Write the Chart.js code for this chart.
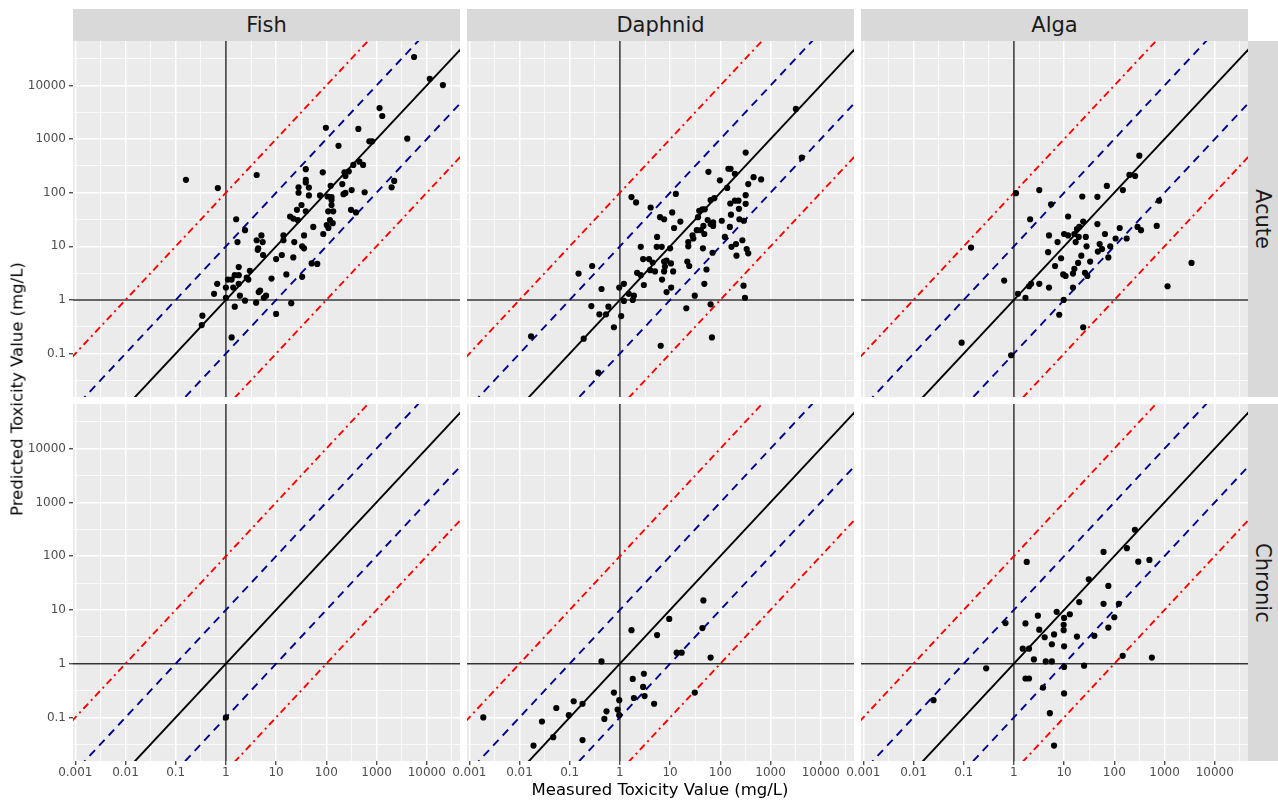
<!DOCTYPE html>
<html>
<head>
<meta charset="utf-8">
<script src="https://cdn.jsdelivr.net/npm/chart.js@4.4.1/dist/chart.umd.min.js"></script>
<style>
    body { margin: 0; background: #fff; font-family: 'DejaVu Sans', sans-serif; }
    #wrap { position: relative; width: 1278px; height: 801px; overflow: hidden; background: #fff; }
    .panel { position: absolute; }
    .strip { position: absolute; background: #D9D9D9; color: #1A1A1A; font-size: 21px;
             display: flex; align-items: center; justify-content: center; }
    .vstrip { writing-mode: vertical-rl; }
    .title { position: absolute; color: #000; font-size: 16.5px; white-space: nowrap; }
</style>
</head>
<body>
<div id="wrap"></div>
<script>
// facets
const organisms = ['Fish', 'Daphnid', 'Alga']
const durations = ['Acute', 'Chronic']

// axis ticks
const xTickValues = [0.001, 0.01, 0.1, 1, 10, 100, 1000, 10000]
const xTickLabels = ['0.001', '0.01', '0.1', '1', '10', '100', '1000', '10000']
const yTickValues = [0.1, 1, 10, 100, 1000, 10000]
const yTickLabels = ['0.1', '1', '10', '100', '1000', '10000']

// reference lines: predicted = factor * measured
const refFactors = [1, 10, 0.1, 100, 0.01]

// [measured, predicted] in mg/L
const fishAcute = [
    [0.16, 174], [0.69, 122], [4.1, 214],
    [5600, 34000], [11500, 13300], [21000, 10200], [1150, 3800], [1300, 2700], [98, 1630], [435, 1550],
    [175, 750], [4100, 1020], [720, 910], [820, 910],
    [345, 330], [455, 380], [540, 330], [230, 240], [280, 250], [240, 205], [39, 275], [85, 240], [39, 174], [39, 155],
    [28, 126], [45, 125], [28, 100], [45, 89], [122, 135], [208, 145], [320, 112], [220, 94], [240, 99], [580, 102],
    [2000, 126], [2250, 166], [75, 89], [106, 85], [127, 83],
    [127, 73], [127, 59], [109, 45], [137, 45], [310, 48], [390, 43], [32, 59], [26, 48], [39, 45], [19, 36], [22, 33],
    [27, 31], [118, 31], [134, 27], [102, 25], [110, 22], [87, 17], [55, 23],
    [1.6, 32], [2.4, 20], [1.7, 12], [4.1, 13], [5.1, 16], [5.4, 12], [4.4, 9.2], [4.3, 8.6],
    [14, 16], [14, 13], [23, 12], [36, 16], [33, 10], [36, 9.2],
    [5.5, 6.9], [10, 5.8], [13, 6.9], [22, 6.2], [51, 4.8], [66, 4.7], [33, 2.7],
    [1.8, 4.1], [3.0, 3.5],
    [1.1, 2.4], [1.3, 2.4], [1.5, 2.9], [1.8, 2.9], [2.6, 2.6], [2.8, 2.4],
    [0.67, 2.0], [1.0, 1.7], [1.4, 1.7], [1.8, 2.0],
    [0.58, 1.3], [1.0, 1.1], [1.9, 1.2], [2.4, 0.97],
    [4.0, 0.89], [4.5, 1.4], [4.8, 1.5], [6.3, 1.2], [5.7, 1.1],
    [8.1, 2.5], [16, 3.0], [10, 0.55], [20, 0.87], [1.5, 0.75], [0.34, 0.51], [0.33, 0.34], [1.3, 0.20],
]
const daphnidAcute = [
    [3200, 3650], [4200, 450], [320, 560], [58, 245], [145, 280], [160, 280], [195, 225], [98, 170], [460, 195],
    [650, 177], [137, 123], [360, 145],
    [1.7, 83], [2.1, 66], [13, 95], [4.1, 53], [6.3, 35], [7.6, 32], [11, 43], [16, 29], [12, 22],
    [64, 73], [76, 79], [158, 63], [195, 71], [230, 71], [320, 90], [320, 62],
    [38, 46], [44, 49], [49, 49],
    [56, 31], [46, 24], [64, 26], [72, 28], [72, 24],
    [107, 30], [155, 23], [240, 32], [295, 30], [163, 39], [235, 50], [36, 35],
    [28, 16], [34, 20], [41, 20], [48, 17], [29, 14],
    [5.5, 15], [123, 15], [275, 13],
    [2.6, 9.8], [5.4, 9.8], [6.8, 9.8], [10, 9.2],
    [23, 12], [23, 10], [45, 9.2], [70, 7.6],
    [167, 9.8], [205, 11], [210, 6.7], [335, 8.9], [360, 7.4],
    [2.9, 5.8], [3.8, 5.8], [4.5, 5.0], [4.0, 3.6], [5.0, 3.4], [7.6, 5.2], [8.5, 5.4], [10.4, 4.8], [7.9, 4.2],
    [7.6, 3.4], [11.5, 3.4],
    [2.2, 3.2], [2.6, 2.9], [3.0, 1.9], [6.9, 2.4], [10.5, 1.7], [8.5, 1.4],
    [22, 5.2], [24, 4.3], [53, 3.7], [48, 2.0], [31, 1.2], [21, 0.70],
    [64, 0.83], [68, 0.20], [290, 1.85], [310, 1.1], [6.5, 0.14],
    [0.15, 3.1], [0.28, 4.3], [0.43, 1.6],
    [0.97, 1.7], [1.2, 2.0], [1.5, 1.3], [1.8, 1.0], [1.9, 1.2], [1.2, 0.96],
    [0.27, 0.77], [0.39, 0.54], [0.53, 0.54], [0.59, 0.75],
    [1.06, 0.50], [0.76, 0.31],
    [0.017, 0.21], [0.19, 0.19], [0.37, 0.044],
]
const algaAcute = [
    [315, 490], [200, 215], [260, 205], [71, 134], [148, 112], [3.2, 112], [1.1, 98], [23, 85], [46, 84],
    [5.5, 61], [780, 71], [2.1, 32], [12, 36],
    [24, 29], [20, 23], [18, 21], [46, 26], [290, 23], [340, 20], [700, 24], [128, 22],
    [5.0, 16], [10, 17], [12, 16], [16, 17], [19.5, 15], [27, 15], [65, 17],
    [7.4, 12], [17, 12], [28, 10], [51, 11], [57, 8.9], [83, 10], [106, 14], [176, 14],
    [4.8, 7.8], [8.7, 6.0], [22, 6.7], [47, 8.0], [76, 6.2],
    [6.6, 4.3], [16, 3.8], [19, 4.9], [33, 5.2],
    [9.6, 3.0], [10.7, 2.8], [15, 3.1], [26, 3.2], [29, 2.8],
    [0.64, 2.3], [2.0, 1.8], [2.2, 2.0], [3.2, 2.0], [5.0, 1.7], [15, 1.7],
    [1.2, 1.3], [1.7, 1.1], [9.8, 1.0], [3450, 4.9], [1150, 1.8], [8.0, 0.53], [24, 0.31],
    [0.14, 9.5], [0.091, 0.16], [0.88, 0.093],
]
const fishChronic = [
    [1, 0.1],
]
const daphnidChronic = [
    [46, 15], [44, 4.6], [9.6, 6.8], [1.7, 4.2], [5.5, 3.4], [13.5, 1.6], [17, 1.6], [64, 1.3], [0.43, 1.1],
    [1.8, 0.52], [3.0, 0.65], [2.9, 0.37], [1.9, 0.23], [3.1, 0.25], [4.8, 0.18],
    [0.76, 0.29], [0.97, 0.21], [0.90, 0.14], [0.97, 0.11], [0.54, 0.13], [0.49, 0.094],
    [31, 0.29], [0.12, 0.20], [0.18, 0.18], [0.096, 0.11], [0.054, 0.15],
    [0.028, 0.084], [0.047, 0.043], [0.019, 0.030], [0.18, 0.038], [0.0019, 0.10],
]
const algaChronic = [
    [257, 310], [178, 141], [61, 120], [300, 79], [500, 85], [1.8, 78], [31, 37], [76, 28],
    [20, 14], [61, 13], [123, 13],
    [3.0, 7.8], [7.1, 9.2], [10, 7.1], [13, 8.3],
    [0.68, 5.7], [1.7, 5.6], [9.8, 5.3], [9.8, 4.2], [3.2, 4.3], [100, 7.3], [76, 4.7],
    [4.1, 3.1], [6.3, 3.5], [5.7, 2.3], [10, 2.1], [18, 3.2], [40, 3.3],
    [1.5, 1.9], [2.0, 1.9], [2.5, 1.2], [4.3, 1.1], [5.7, 1.1],
    [10, 0.87], [25, 0.92], [147, 1.4], [560, 1.3], [0.28, 0.82], [1.7, 0.53], [2.0, 0.53], [3.8, 0.36],
    [10, 0.28], [5.2, 0.12], [6.3, 0.030], [0.025, 0.21],
]

const panelData = [
    [fishAcute, daphnidAcute, algaAcute],
    [fishChronic, daphnidChronic, algaChronic],
]

// axis limits (log10)
const xLogMin = -3.046, xLogMax = 4.663
const yLogMin = -1.81, yLogMax = 4.83

// layout
const colLeft = [73, 467, 861]
const colWidth = 387
const rowTop = [41, 404]
const rowHeight = [356, 357]
const xAxisHeight = 30
const labelOverhang = 24

const refStyles = {
    1: { color: '#000000', dash: [] },
    10: { color: '#00008B', dash: [8, 6] },
    0.1: { color: '#00008B', dash: [8, 6] },
    100: { color: '#FF0000', dash: [2, 4, 7, 4] },
    0.01: { color: '#FF0000', dash: [2, 4, 7, 4] },
}

Chart.defaults.font.family = "'DejaVu Sans', sans-serif"

const isDecade = (v) => Math.abs(Math.log10(v) - Math.round(Math.log10(v))) < 1e-6

function gridValues(logMin, logMax) {
    const vals = []
    for (let k = Math.ceil(logMin * 2); k <= Math.floor(logMax * 2); k++) {
        vals.push(Math.pow(10, k / 2))
    }
    return vals
}

function labelFor(v, values, labels) {
    const i = values.findIndex((t) => Math.abs(Math.log10(t) - Math.log10(v)) < 1e-6)
    return i >= 0 ? labels[i] : ''
}

const panelBackground = {
    id: 'panelBackground',
    beforeDraw(chart) {
        const { ctx, chartArea } = chart
        ctx.save()
        ctx.fillStyle = '#EBEBEB'
        ctx.fillRect(chartArea.left, chartArea.top, chartArea.right - chartArea.left, chartArea.bottom - chartArea.top)
        ctx.restore()
    },
}

function axisOptions(isX, show, fixedSize) {
    const lo = isX ? xLogMin : yLogMin
    const hi = isX ? xLogMax : yLogMax
    const values = isX ? xTickValues : yTickValues
    const labels = isX ? xTickLabels : yTickLabels
    return {
        type: 'logarithmic',
        bounds: 'data',
        min: Math.pow(10, lo),
        max: Math.pow(10, hi),
        afterBuildTicks: (scale) => {
            scale.ticks = gridValues(lo, hi).map((v) => ({ value: v }))
        },
        afterFit: (scale) => {
            // fixed axis size, no label overflow padding: panels must line up exactly
            if (isX) scale.height = fixedSize
            else scale.width = fixedSize
            scale.paddingLeft = 0
            scale.paddingRight = 0
            scale.paddingTop = 0
            scale.paddingBottom = 0
        },
        border: { display: false },
        grid: {
            color: '#FFFFFF',
            lineWidth: (c) => (c.tick && isDecade(c.tick.value) ? 1.5 : 0.8),
            drawTicks: show,
            tickLength: 4,
            tickWidth: 1.2,
            tickColor: (c) => (c.tick && isDecade(c.tick.value) ? '#333333' : 'rgba(0,0,0,0)'),
        },
        ticks: {
            display: show,
            autoSkip: false,
            maxRotation: 0,
            minRotation: 0,
            padding: isX ? 1 : 3,
            color: '#4D4D4D',
            font: { size: 12 },
            callback: (v) => labelFor(v, values, labels),
        },
    }
}

function makePanel(row, col) {
    const showY = col === 0
    const showX = row === 1
    // room left of the panel: y labels on the first column, x label overhang on the other bottom panels
    const leftPad = showY ? colLeft[0] : (showX ? labelOverhang : 0)
    const left = colLeft[col] - leftPad
    const width = colWidth + leftPad
    const height = rowHeight[row] + (showX ? xAxisHeight : 0)

    const div = document.createElement('div')
    div.className = 'panel'
    div.style.left = left + 'px'
    div.style.top = rowTop[row] + 'px'
    const canvas = document.createElement('canvas')
    canvas.width = width
    canvas.height = height
    canvas.style.width = width + 'px'
    canvas.style.height = height + 'px'
    div.appendChild(canvas)
    document.getElementById('wrap').appendChild(div)

    const lineLo = 1e-5, lineHi = 1e6
    const datasets = [
        {
            data: panelData[row][col].map(([x, y]) => ({ x, y })),
            backgroundColor: '#000000',
            borderWidth: 0,
            pointRadius: 3.1,
            pointHoverRadius: 3.1,
            showLine: false,
            clip: 0,
        },
    ]
    refFactors.forEach((f) => {
        datasets.push({
            data: [{ x: lineLo, y: lineLo * f }, { x: lineHi, y: lineHi * f }],
            showLine: true,
            borderColor: refStyles[f].color,
            borderDash: refStyles[f].dash,
            borderWidth: 1.9,
            pointRadius: 0,
            clip: 0,
        })
    })
    // vertical and horizontal lines through 1
    datasets.push({
        data: [{ x: 1, y: 1e-5 }, { x: 1, y: 1e6 }],
        showLine: true, borderColor: '#333333', borderWidth: 1.5, pointRadius: 0, clip: 0,
    })
    datasets.push({
        data: [{ x: 1e-5, y: 1 }, { x: 1e6, y: 1 }],
        showLine: true, borderColor: '#333333', borderWidth: 1.5, pointRadius: 0, clip: 0,
    })

    new Chart(canvas, {
        type: 'scatter',
        data: { datasets },
        options: {
            responsive: false,
            maintainAspectRatio: false,
            devicePixelRatio: 1,
            animation: false,
            layout: { padding: 0, autoPadding: false },
            plugins: { legend: { display: false }, tooltip: { enabled: false } },
            elements: { line: { tension: 0 } },
            scales: {
                x: axisOptions(true, showX, showX ? xAxisHeight : 0),
                y: axisOptions(false, showY, leftPad),
            },
        },
        plugins: [panelBackground],
    })
}

function addDiv(cls, text, css) {
    const d = document.createElement('div')
    d.className = cls
    d.textContent = text
    Object.assign(d.style, css)
    document.getElementById('wrap').appendChild(d)
}

for (let r = 0; r < 2; r++) {
    for (let c = 0; c < 3; c++) makePanel(r, c)
}

organisms.forEach((name, c) => {
    addDiv('strip', name, { left: colLeft[c] + 'px', top: '9px', width: colWidth + 'px', height: '32px' })
})
durations.forEach((name, r) => {
    addDiv('strip vstrip', name, {
        left: '1248px', top: rowTop[r] + 'px', width: '30px', height: rowHeight[r] + 'px',
    })
})

addDiv('title', 'Measured Toxicity Value (mg/L)', {
    left: '660px', top: '789px', transform: 'translate(-50%, -50%)',
})
addDiv('title', 'Predicted Toxicity Value (mg/L)', {
    left: '17px', top: '389px', transform: 'translate(-50%, -50%) rotate(-90deg)',
})
</script>
</body>
</html>
